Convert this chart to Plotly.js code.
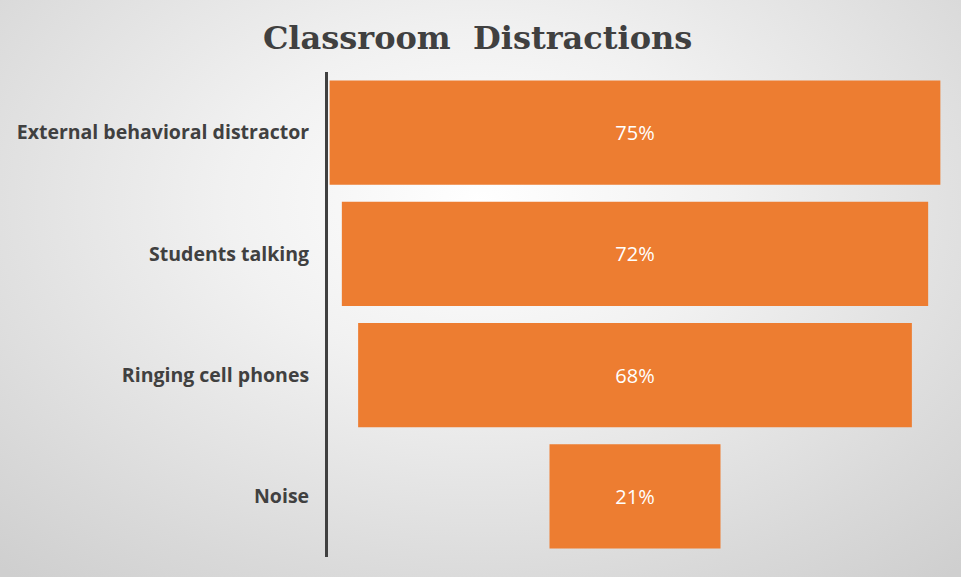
<!DOCTYPE html>
<html>
<head>
<meta charset="utf-8">
<script src="https://cdn.plot.ly/plotly-3.0.1.min.js"></script>
<style>
  html, body { margin: 0; padding: 0; }
  #plot {
    width: 961px; height: 577px;
    background: radial-gradient(ellipse 75% 85% at 50% 35%, #ffffff 0%, #f1f1f1 35%, #d9d9d9 80%, #cfcfcf 100%);
  }
</style>
</head>
<body>
<div id="plot"></div>
<script>
// classroom distraction shares, in percent
var categories = ['External behavioral distractor', 'Students talking', 'Ringing cell phones', 'Noise'];
var shares = [75, 72, 68, 21];

var funnel = {
    type: 'funnel',
    y: categories,
    x: shares,
    texttemplate: '%{x}%',
    textposition: 'inside',
    insidetextanchor: 'middle',
    textfont: { family: 'Open Sans, sans-serif', size: 20, color: '#ffffff' },
    marker: { color: '#ed7d31', line: { width: 0 } },
    connector: { visible: false },
    width: 0.86,
    hoverinfo: 'y+x',
};

var layout = {
    width: 961,
    height: 577,
    margin: { l: 328, r: 19, t: 72, b: 20 },
    paper_bgcolor: 'rgba(0,0,0,0)',
    plot_bgcolor: 'rgba(0,0,0,0)',
    showlegend: false,
    title: {
        text: '<b>Classroom  Distractions</b>',
        font: { family: 'DejaVu Serif, serif', size: 32, color: '#404040' },
        x: 0.497,
        xanchor: 'center',
        y: 0.935,
        yanchor: 'middle',
    },
    xaxis: {
        range: [-37.7, 37.7],
        visible: false,
        showgrid: false,
        zeroline: false,
        fixedrange: true,
    },
    yaxis: {
        showline: true,
        linecolor: '#404040',
        linewidth: 3,
        showgrid: false,
        ticks: '',
        ticklabelstandoff: 12,
        tickfont: { family: 'Open Sans, sans-serif', size: 19.5, color: '#404040', weight: 'bold' },
        fixedrange: true,
    },
};

Plotly.newPlot('plot', [funnel], layout, { displayModeBar: false, staticPlot: true });
</script>
</body>
</html>
